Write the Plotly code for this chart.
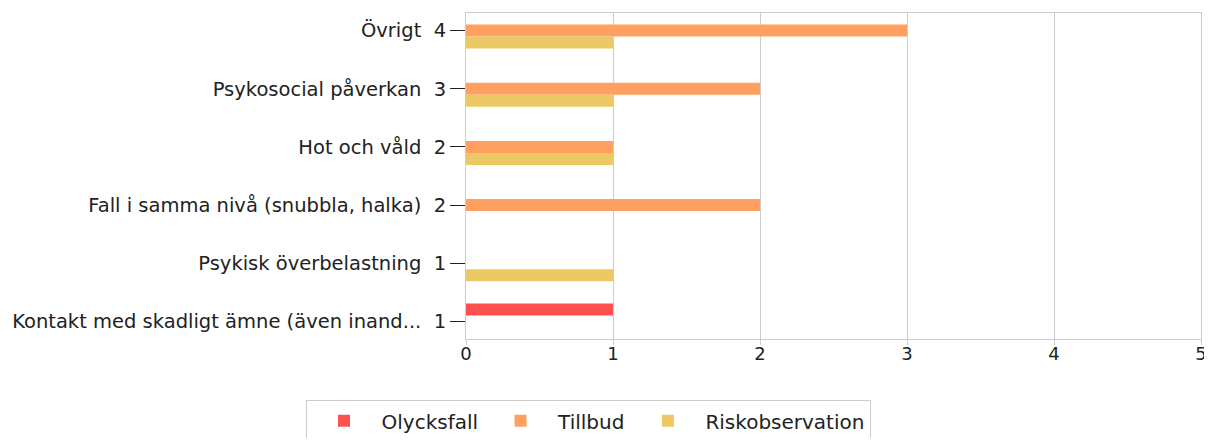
import plotly.graph_objects as go

categories = [
    "Övrigt",
    "Psykosocial påverkan",
    "Hot och våld",
    "Fall i samma nivå (snubbla, halka)",
    "Psykisk överbelastning",
    "Kontakt med skadligt ämne (även inand...",
]
olycksfall = [0, 0, 0, 0, 0, 1]
tillbud = [3, 2, 1, 2, 0, 0]
riskobservation = [1, 1, 1, 0, 1, 0]
x_ticks = [0, 1, 2, 3, 4, 5]

series = [
    ("Olycksfall", olycksfall, "#FF5050"),
    ("Tillbud", tillbud, "#FFA060"),
    ("Riskobservation", riskobservation, "#EDC966"),
]

totals = [a + b + c for a, b, c in zip(olycksfall, tillbud, riskobservation)]
ticktext = [f"{c}\u00a0\u00a0{t}" for c, t in zip(categories, totals)]

FONT = "DejaVu Sans, Verdana, sans-serif"
FS = 19.5

fig = go.Figure()
for name, vals, color in series:
    fig.add_trace(go.Bar(
        y=categories, x=vals, name=name, orientation="h",
        marker=dict(color=color, line=dict(width=0)),
    ))

# page body has an 8px offset; compensate so plot area sits at x 466-1201, y 13-339
fig.update_layout(
    width=1204, height=430,
    margin=dict(l=458, r=11, t=5, b=99, autoexpand=False),
    paper_bgcolor="white", plot_bgcolor="white",
    barmode="group", bargap=0.38, bargroupgap=0,
    font=dict(family=FONT, size=FS, color="#222222"),
    showlegend=True,
    legend=dict(
        orientation="h", x=0.166, xanchor="center", y=-0.188, yanchor="top",
        bordercolor="#cccccc", borderwidth=1, bgcolor="white",
        font=dict(family=FONT, size=20, color="#222222"),
        itemwidth=65, traceorder="normal",
    ),
)
fig.update_xaxes(
    range=[0, 5], tickvals=x_ticks, showgrid=True, gridcolor="#cccccc",
    gridwidth=1, showline=True, linecolor="#cccccc", mirror=True,
    ticks="outside", ticklen=5, tickcolor="#cccccc", zeroline=False,
    automargin=False, ticklabeloverflow="allow", ticklabelstandoff=-7,
    tickfont=dict(family=FONT, size=18, color="#222222"),
)
fig.update_yaxes(
    tickvals=categories, ticktext=ticktext, autorange=False,
    range=[5.3, -0.3], showgrid=False, showline=True, linecolor="#cccccc",
    mirror=True, ticks="outside", ticklen=15, tickcolor="#222222",
    automargin=False,
    tickfont=dict(family=FONT, size=FS, color="#222222"),
)

fig.write_html("out.html")
